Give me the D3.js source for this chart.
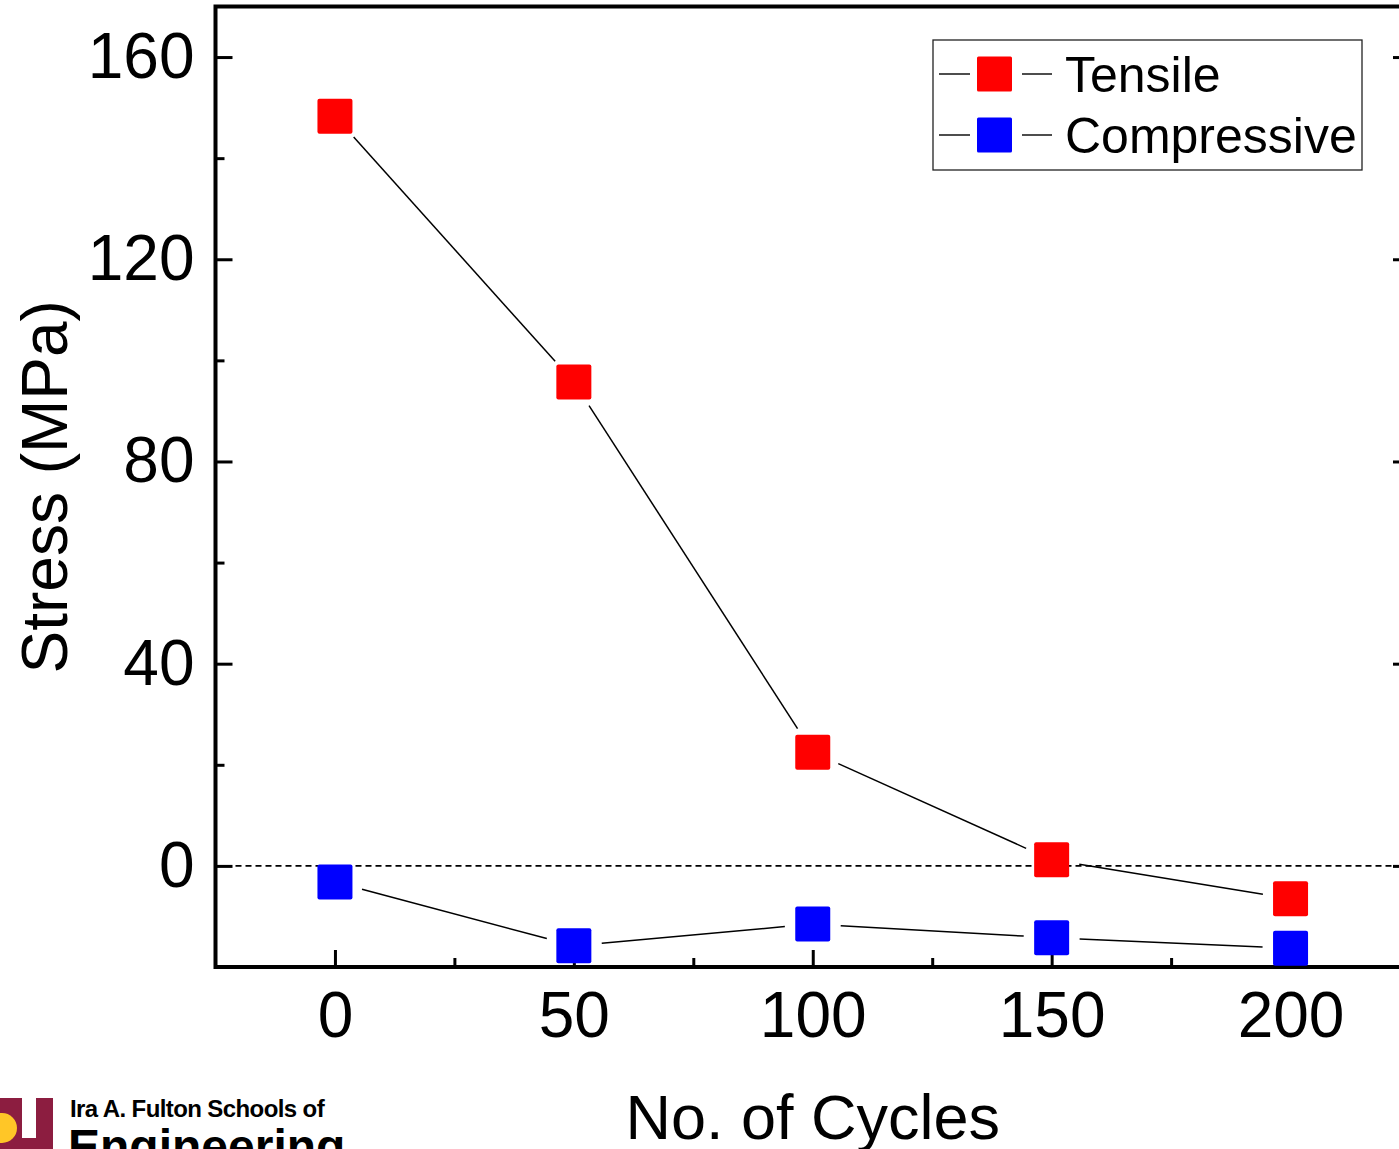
<!DOCTYPE html>
<html>
<head>
<meta charset="utf-8">
<script src="https://cdn.jsdelivr.net/npm/d3@7"></script>
<style>
  body { margin: 0; background: #fff; }
  svg { display: block; font-family: "Liberation Sans", Arial, sans-serif; }
  .axis path { display: none; }
  .axis line { stroke: #000; stroke-width: 3; }
  .axis text { font-size: 64px; fill: #000; font-family: "Liberation Sans", Arial, sans-serif; }
</style>
</head>
<body>
<svg id="chart" width="1399" height="1149"></svg>
<script>
// data
var cycles = [0, 50, 100, 150, 200];
var tensile = [148.3, 95.7, 22.5, 1.2, -6.5];
var compressive = [-3.2, -15.8, -11.5, -14.2, -16.3];
var seriesNames = ["Tensile", "Compressive"];
var seriesColors = ["#ff0000", "#0000ff"];
var xMajor = [0, 50, 100, 150, 200];
var xMinor = [25, 75, 125, 175];
var yMajor = [0, 40, 80, 120, 160];
var yMinor = [20, 60, 100, 140];

(function() {
var svg = d3.select("#chart");
var mLeft = 215.5, mRight = 1410, mTop = 6.5, mBottom = 967;

var x = d3.scaleLinear().domain([-25, 225]).range([mLeft, mRight]);
var y = d3.scaleLinear().domain([-20, 170]).range([mBottom, mTop]);

// zero reference line
svg.append("line")
  .attr("x1", mLeft).attr("x2", mRight)
  .attr("y1", y(0)).attr("y2", y(0))
  .attr("stroke", "#000").attr("stroke-width", 1.8)
  .attr("stroke-dasharray", "6,4");

// axes
svg.append("g").attr("class", "axis")
  .attr("transform", "translate(0," + mBottom + ")")
  .call(d3.axisBottom(x).tickValues(xMajor).tickSize(-17).tickPadding(25).tickFormat(d3.format("d")));
svg.append("g").attr("class", "axis")
  .attr("transform", "translate(0," + mBottom + ")")
  .call(d3.axisBottom(x).tickValues(xMinor).tickSize(-9).tickFormat(""));

svg.append("g").attr("class", "axis")
  .attr("transform", "translate(" + mLeft + ",0)")
  .call(d3.axisLeft(y).tickValues(yMajor).tickSize(-17).tickPadding(21).tickFormat(d3.format("d")));
svg.append("g").attr("class", "axis")
  .attr("transform", "translate(" + mLeft + ",0)")
  .call(d3.axisLeft(y).tickValues(yMinor).tickSize(-9).tickFormat(""));

svg.append("g").attr("class", "axis")
  .attr("transform", "translate(" + mRight + ",0)")
  .call(d3.axisRight(y).tickValues(yMajor).tickSize(-17).tickFormat(""));

// frame
svg.append("rect")
  .attr("x", mLeft).attr("y", mTop)
  .attr("width", mRight - mLeft).attr("height", mBottom - mTop)
  .attr("fill", "none").attr("stroke", "#000").attr("stroke-width", 4);

// series
var series = [tensile, compressive];
var gap = 28, ms = 35;
series.forEach(function(vals, si) {
  var pts = cycles.map(function(c, i) { return [x(c), y(vals[i])]; });
  var g = svg.append("g");
  for (var i = 0; i < pts.length - 1; i++) {
    var a = pts[i], b = pts[i + 1];
    var dx = b[0] - a[0], dy = b[1] - a[1];
    var len = Math.sqrt(dx * dx + dy * dy);
    var ux = dx / len, uy = dy / len;
    g.append("line")
      .attr("x1", a[0] + ux * gap).attr("y1", a[1] + uy * gap)
      .attr("x2", b[0] - ux * gap).attr("y2", b[1] - uy * gap)
      .attr("stroke", "#000").attr("stroke-width", 1.5);
  }
  g.selectAll("rect").data(pts).enter().append("rect")
    .attr("x", function(d) { return d[0] - ms / 2; })
    .attr("y", function(d) { return d[1] - ms / 2; })
    .attr("width", ms).attr("height", ms)
    .attr("rx", 2)
    .attr("fill", seriesColors[si]);
});

// legend
var lg = svg.append("g");
lg.append("rect")
  .attr("x", 933).attr("y", 40).attr("width", 429).attr("height", 130)
  .attr("fill", "#fff").attr("stroke", "#222").attr("stroke-width", 1.3);
seriesNames.forEach(function(name, i) {
  var cy = 74 + i * 61;
  lg.append("line").attr("x1", 939).attr("x2", 970).attr("y1", cy).attr("y2", cy)
    .attr("stroke", "#000").attr("stroke-width", 1.4);
  lg.append("line").attr("x1", 1022).attr("x2", 1052).attr("y1", cy).attr("y2", cy)
    .attr("stroke", "#000").attr("stroke-width", 1.4);
  lg.append("rect").attr("x", 994.5 - ms / 2).attr("y", cy - ms / 2)
    .attr("width", ms).attr("height", ms).attr("rx", 1.5)
    .attr("fill", seriesColors[i]);
  lg.append("text").attr("x", 1065).attr("y", cy).attr("dy", "0.36em")
    .attr("font-size", 50).text(name);
});

// axis titles
svg.append("text")
  .attr("transform", "translate(67," + ((mTop + mBottom) / 2) + ") rotate(-90)")
  .attr("text-anchor", "middle").attr("font-size", 64)
  .text("Stress (MPa)");
svg.append("text")
  .attr("x", x(100)).attr("y", 1139)
  .attr("text-anchor", "middle").attr("font-size", 63)
  .text("No. of Cycles");

// footer logo (partially cut off at the bottom edge)
var logo = svg.append("g");
logo.append("rect").attr("x", 0).attr("y", 1098).attr("width", 53).attr("height", 60).attr("fill", "#8c1d40");
logo.append("rect").attr("x", 22).attr("y", 1098).attr("width", 14).attr("height", 40).attr("fill", "#fff");
logo.append("circle").attr("cx", 2).attr("cy", 1128).attr("r", 15).attr("fill", "#ffc627");
logo.append("text").attr("x", 70).attr("y", 1117)
  .attr("font-size", 24).attr("font-weight", "bold").attr("letter-spacing", -0.6)
  .text("Ira A. Fulton Schools of");
logo.append("text").attr("x", 68).attr("y", 1163)
  .attr("font-size", 48).attr("font-weight", "bold")
  .text("Engineering");
})();
</script>
</body>
</html>
